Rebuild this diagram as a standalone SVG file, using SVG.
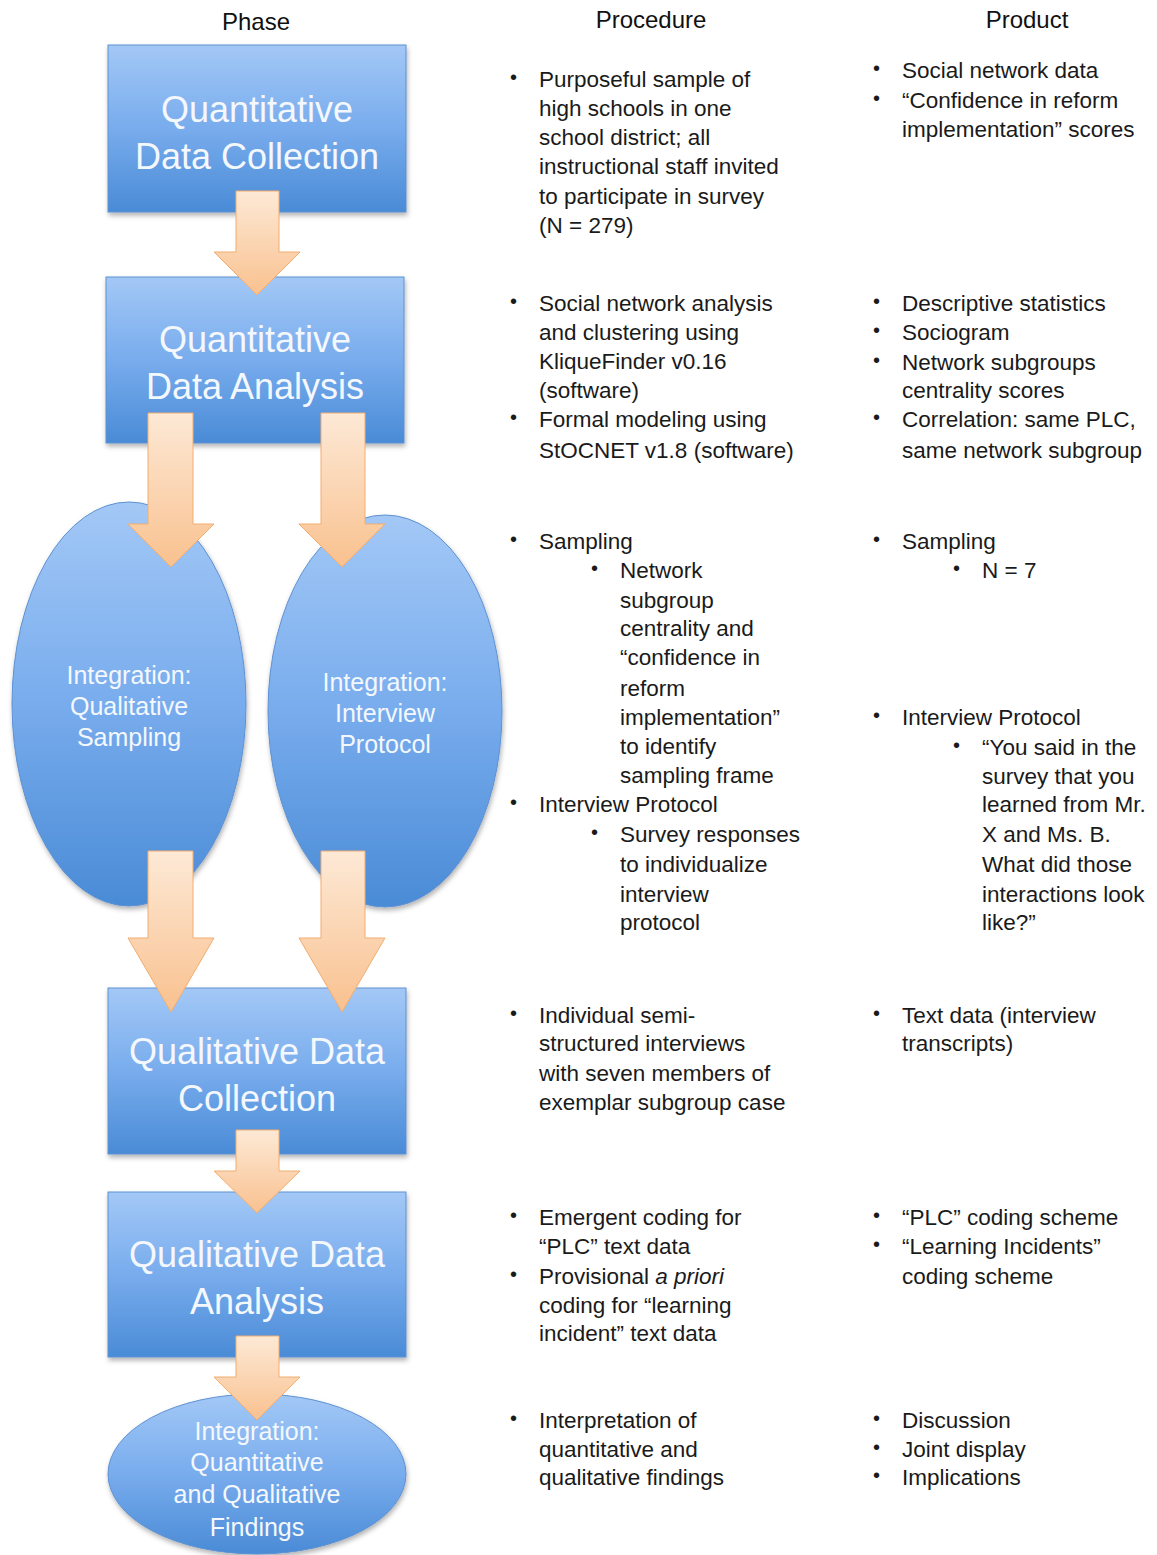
<svg xmlns="http://www.w3.org/2000/svg" width="1157" height="1555" viewBox="0 0 1157 1555">
<defs>
<linearGradient id="blue" x1="0" y1="0" x2="0" y2="1">
<stop offset="0" stop-color="#a3c8f6"/>
<stop offset="0.5" stop-color="#78aced"/>
<stop offset="1" stop-color="#4a8bd6"/>
</linearGradient>
<linearGradient id="orange" x1="0" y1="0" x2="0" y2="1">
<stop offset="0" stop-color="#fde9d6"/>
<stop offset="1" stop-color="#f9c18f"/>
</linearGradient>
<filter id="sh" x="-10%" y="-10%" width="125%" height="125%">
<feDropShadow dx="1" dy="3" stdDeviation="2.5" flood-color="#000" flood-opacity="0.3"/>
</filter>
</defs>
<style>
.node{fill:url(#blue);stroke:#5d91d2;stroke-width:1;filter:url(#sh)}
.arrow{fill:url(#orange);stroke:#f2ad6e;stroke-width:1}
.t{font-family:"Liberation Sans",Arial,sans-serif;fill:#f4f8fd;text-anchor:middle}
.big{font-size:36px}
.mid{font-size:25px}
.h{font-family:"Liberation Sans",Arial,sans-serif;font-size:24px;fill:#111;text-anchor:middle}
.b{font-family:"Liberation Sans",Arial,sans-serif;font-size:22.5px;fill:#1a1a1a}
.bu{font-family:"Liberation Sans",Arial,sans-serif;font-size:20px;fill:#1a1a1a}
</style>
<rect width="1157" height="1555" fill="#fff"/>

<g id="headers">
<text class="h" x="256" y="30" font-size="26">Phase</text>
<text class="h" x="651" y="28">Procedure</text>
<text class="h" x="1027" y="28">Product</text>
</g>

<g id="quant-collection">
<rect class="node" x="108" y="45" width="298" height="167"/>
<text class="t big" x="257" y="122">Quantitative</text>
<text class="t big" x="257" y="169">Data Collection</text>
</g>
<g id="quant-analysis">
<rect class="node" x="106" y="277" width="298" height="166"/>
<text class="t big" x="255" y="352">Quantitative</text>
<text class="t big" x="255" y="399">Data Analysis</text>
</g>
<g id="int-sampling">
<ellipse class="node" cx="129" cy="704" rx="117" ry="202"/>
<text class="t mid" x="129" y="684">Integration:</text>
<text class="t mid" x="129" y="715">Qualitative</text>
<text class="t mid" x="129" y="746">Sampling</text>
</g>
<g id="int-protocol">
<ellipse class="node" cx="385" cy="711" rx="117" ry="196"/>
<text class="t mid" x="385" y="691">Integration:</text>
<text class="t mid" x="385" y="722">Interview</text>
<text class="t mid" x="385" y="753">Protocol</text>
</g>
<g id="qual-collection">
<rect class="node" x="108" y="988" width="298" height="166"/>
<text class="t big" x="257" y="1064">Qualitative Data</text>
<text class="t big" x="257" y="1111">Collection</text>
</g>
<g id="qual-analysis">
<rect class="node" x="108" y="1192" width="298" height="165"/>
<text class="t big" x="257" y="1267">Qualitative Data</text>
<text class="t big" x="257" y="1314">Analysis</text>
</g>
<g id="int-findings">
<ellipse class="node" cx="257" cy="1474" rx="149" ry="80"/>
<text class="t mid" x="257" y="1440">Integration:</text>
<text class="t mid" x="257" y="1471">Quantitative</text>
<text class="t mid" x="257" y="1503">and Qualitative</text>
<text class="t mid" x="257" y="1536">Findings</text>
</g>

<g id="connectors">
<polygon class="arrow" points="236,191 279,191 279,252 300,252 257,295 214,252 236,252"/>
<polygon class="arrow" points="148,413 193,413 193,524 214,524 171,567 128,524 148,524"/>
<polygon class="arrow" points="321,413 365,413 365,524 385,524 342,567 299,524 321,524"/>
<polygon class="arrow" points="148,851 193,851 193,938 214,938 171,1012 128,938 148,938"/>
<polygon class="arrow" points="321,851 365,851 365,938 385,938 342,1012 299,938 321,938"/>
<polygon class="arrow" points="236,1130 279,1130 279,1171 300,1171 257,1213 214,1171 236,1171"/>
<polygon class="arrow" points="236,1336 279,1336 279,1377 300,1377 257,1420 214,1377 236,1377"/>
</g>

<g id="procedure">
<text class="bu" x="510" y="84">•</text>
<text class="b" x="539" y="87">Purposeful sample of</text>
<text class="b" x="539" y="116">high schools in one</text>
<text class="b" x="539" y="145">school district; all</text>
<text class="b" x="539" y="174">instructional staff invited</text>
<text class="b" x="539" y="204">to participate in survey</text>
<text class="b" x="539" y="233">(N = 279)</text>

<text class="bu" x="510" y="308">•</text>
<text class="b" x="539" y="311">Social network analysis</text>
<text class="b" x="539" y="340">and clustering using</text>
<text class="b" x="539" y="369">KliqueFinder v0.16</text>
<text class="b" x="539" y="398">(software)</text>
<text class="bu" x="510" y="424">•</text>
<text class="b" x="539" y="427">Formal modeling using</text>
<text class="b" x="539" y="458">StOCNET v1.8 (software)</text>

<text class="bu" x="510" y="546">•</text>
<text class="b" x="539" y="549">Sampling</text>
<text class="bu" x="591" y="575">•</text>
<text class="b" x="620" y="578">Network</text>
<text class="b" x="620" y="608">subgroup</text>
<text class="b" x="620" y="636">centrality and</text>
<text class="b" x="620" y="665">“confidence in</text>
<text class="b" x="620" y="696">reform</text>
<text class="b" x="620" y="725">implementation”</text>
<text class="b" x="620" y="754">to identify</text>
<text class="b" x="620" y="783">sampling frame</text>
<text class="bu" x="510" y="809">•</text>
<text class="b" x="539" y="812">Interview Protocol</text>
<text class="bu" x="591" y="839">•</text>
<text class="b" x="620" y="842">Survey responses</text>
<text class="b" x="620" y="872">to individualize</text>
<text class="b" x="620" y="902">interview</text>
<text class="b" x="620" y="930">protocol</text>

<text class="bu" x="510" y="1020">•</text>
<text class="b" x="539" y="1023">Individual semi-</text>
<text class="b" x="539" y="1051">structured interviews</text>
<text class="b" x="539" y="1081">with seven members of</text>
<text class="b" x="539" y="1110">exemplar subgroup case</text>

<text class="bu" x="510" y="1222">•</text>
<text class="b" x="539" y="1225">Emergent coding for</text>
<text class="b" x="539" y="1254">“PLC” text data</text>
<text class="bu" x="510" y="1281">•</text>
<text class="b" x="539" y="1284">Provisional <tspan font-style="italic">a priori</tspan></text>
<text class="b" x="539" y="1313">coding for “learning</text>
<text class="b" x="539" y="1341">incident” text data</text>

<text class="bu" x="510" y="1425">•</text>
<text class="b" x="539" y="1428">Interpretation of</text>
<text class="b" x="539" y="1457">quantitative and</text>
<text class="b" x="539" y="1485">qualitative findings</text>
</g>

<g id="product">
<text class="bu" x="873" y="75">•</text>
<text class="b" x="902" y="78">Social network data</text>
<text class="bu" x="873" y="105">•</text>
<text class="b" x="902" y="108">“Confidence in reform</text>
<text class="b" x="902" y="137">implementation” scores</text>

<text class="bu" x="873" y="308">•</text>
<text class="b" x="902" y="311">Descriptive statistics</text>
<text class="bu" x="873" y="337">•</text>
<text class="b" x="902" y="340">Sociogram</text>
<text class="bu" x="873" y="367">•</text>
<text class="b" x="902" y="370">Network subgroups</text>
<text class="b" x="902" y="398">centrality scores</text>
<text class="bu" x="873" y="424">•</text>
<text class="b" x="902" y="427">Correlation: same PLC,</text>
<text class="b" x="902" y="458">same network subgroup</text>

<text class="bu" x="873" y="546">•</text>
<text class="b" x="902" y="549">Sampling</text>
<text class="bu" x="953" y="575">•</text>
<text class="b" x="982" y="578">N = 7</text>
<text class="bu" x="873" y="722">•</text>
<text class="b" x="902" y="725">Interview Protocol</text>
<text class="bu" x="953" y="752">•</text>
<text class="b" x="982" y="755">“You said in the</text>
<text class="b" x="982" y="784">survey that you</text>
<text class="b" x="982" y="812">learned from Mr.</text>
<text class="b" x="982" y="842">X and Ms. B.</text>
<text class="b" x="982" y="872">What did those</text>
<text class="b" x="982" y="902">interactions look</text>
<text class="b" x="982" y="930">like?”</text>

<text class="bu" x="873" y="1020">•</text>
<text class="b" x="902" y="1023">Text data (interview</text>
<text class="b" x="902" y="1051">transcripts)</text>

<text class="bu" x="873" y="1222">•</text>
<text class="b" x="902" y="1225">“PLC” coding scheme</text>
<text class="bu" x="873" y="1251">•</text>
<text class="b" x="902" y="1254">“Learning Incidents”</text>
<text class="b" x="902" y="1284">coding scheme</text>

<text class="bu" x="873" y="1425">•</text>
<text class="b" x="902" y="1428">Discussion</text>
<text class="bu" x="873" y="1454">•</text>
<text class="b" x="902" y="1457">Joint display</text>
<text class="bu" x="873" y="1482">•</text>
<text class="b" x="902" y="1485">Implications</text>
</g>
</svg>
